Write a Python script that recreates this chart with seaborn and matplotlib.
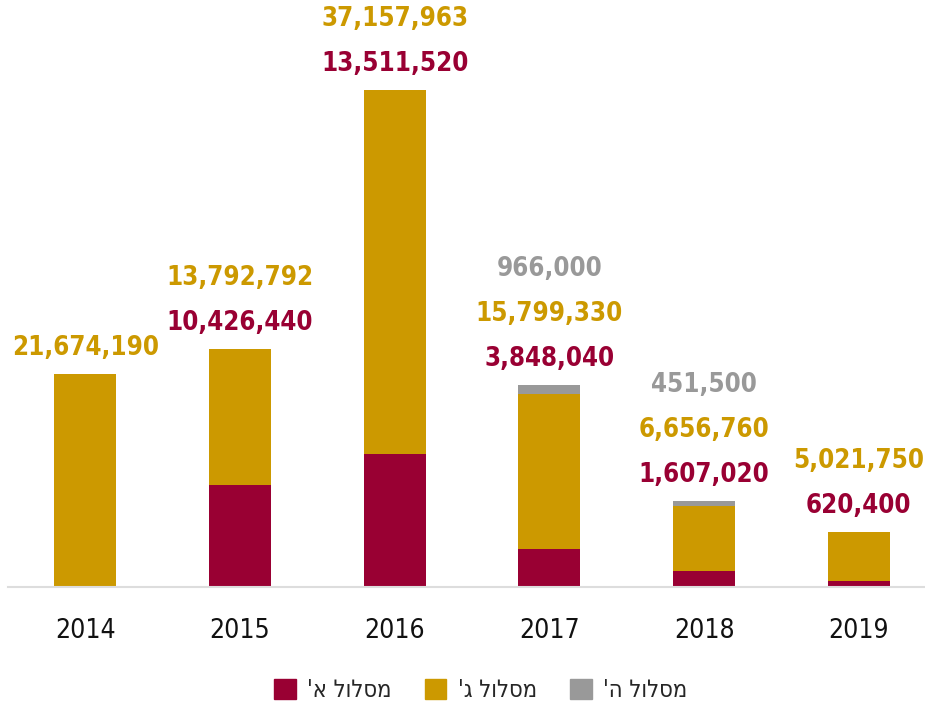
import matplotlib
matplotlib.use("Agg")
import matplotlib.pyplot as plt
import matplotlib.patches as mpatches
import seaborn as sns

# datos
years = ["2014", "2015", "2016", "2017", "2018", "2019"]
track_a = [0, 10426440, 13511520, 3848040, 1607020, 620400]
track_g = [21674190, 13792792, 37157963, 15799330, 6656760, 5021750]
track_h = [0, 0, 0, 966000, 451500, 0]
legend_labels = ["מסלול א'", "מסלול ג'", "מסלול ה'"]

c_a = "#990033"
c_g = "#cc9900"
c_h = "#999999"

sns.set_theme(style="white")
plt.rcParams["font.family"] = ["DejaVu Sans"]
plt.rcParams["font.stretch"] = "condensed"

fig = plt.figure(figsize=(9.25, 7.06), dpi=100)
ax = fig.add_axes([8 / 925, 119 / 706, 0.995, 577 / 706])

bottom_h = [a + g for a, g in zip(track_a, track_g)]
bar_kw = dict(width=0.4, saturation=1, linewidth=0, ax=ax)
sns.barplot(x=years, y=track_a, color=c_a, **bar_kw)
sns.barplot(x=years, y=track_g, bottom=track_a, color=c_g, **bar_kw)
sns.barplot(x=years, y=track_h, bottom=bottom_h, color=c_h, **bar_kw)

ax.set_xlim(-0.5, 5.45)
ax.set_ylim(0, 58.8e6)
ax.set_yticks([])
ax.set_ylabel("")
for s in ["top", "left", "right"]:
    ax.spines[s].set_visible(False)
ax.spines["bottom"].set_color("#dddddd")
ax.spines["bottom"].set_linewidth(1.5)
ax.tick_params(axis="x", length=0, pad=22, labelsize=19)
for t in ax.get_xticklabels():
    t.set_color("#111111")
    t.set_fontweight("medium")

# etiquetas de valores
for i in range(len(years)):
    top = track_a[i] + track_g[i] + track_h[i]
    k = 0
    for val, col in [(track_a[i], c_a), (track_g[i], c_g), (track_h[i], c_h)]:
        if val == 0:
            continue
        ax.annotate(f"{val:,}", xy=(i, top), xytext=(0, 26 + 45 * k),
                    textcoords="offset pixels",
                    ha="center", va="center", color=col,
                    fontsize=18.5, fontweight="bold")
        k += 1

handles = [mpatches.Patch(color=c) for c in [c_a, c_g, c_h]]
fig.legend(handles, [l[::-1] for l in legend_labels], loc="center",
           bbox_to_anchor=(0.52, 1 - 690 / 706), ncol=3, frameon=False,
           fontsize=17, handlelength=0.9, handleheight=0.9, columnspacing=1.4,
           handletextpad=0.5)

fig.savefig("out.png", dpi=100)
